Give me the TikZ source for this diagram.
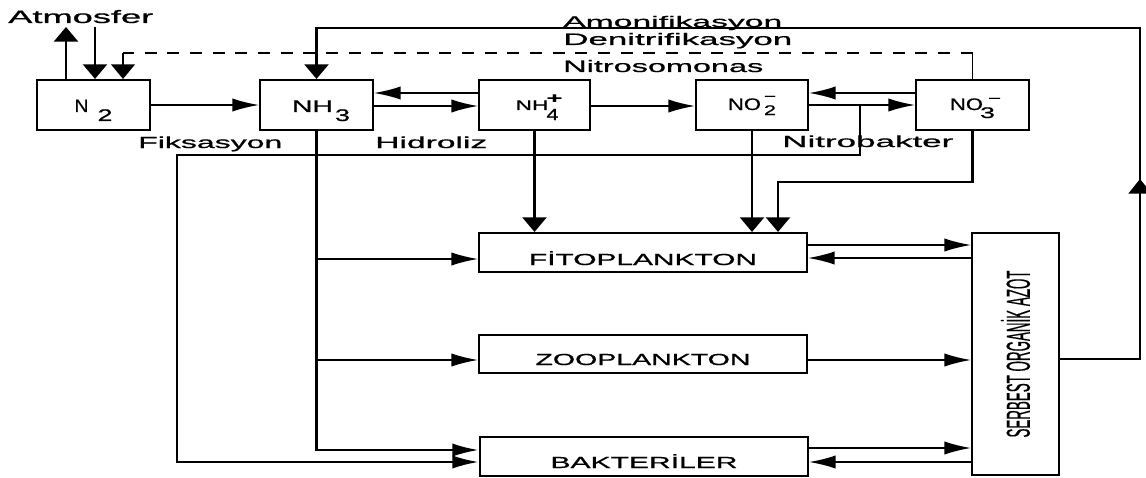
\documentclass[tikz,border=0pt]{standalone}
\usepackage{fontspec}
\setmainfont{Liberation Sans}
\newfontfamily\labfont{Liberation Sans}[FakeBold=0.6]
\usepackage{graphicx}
\usetikzlibrary{arrows.meta,decorations.markings}
\newlength\px \setlength\px{0.75pt}
\newcommand\wtext[3]{\resizebox{#2\px}{\height}{\fontsize{#1}{#1}\labfont #3}}
\tikzset{
  box/.style={draw, line width=1.6pt, rectangle, inner sep=0pt, text depth=0pt},
  lab/.style={inner sep=0pt, anchor=base west},
  conn/.style={line width=1.2pt},
  vconn/.style={line width=2pt},
  htip/.style={-{Latex[length=20pt,width=10pt]}},
  vtip/.style={-{Triangle[length=11pt,width=18pt]}},
  dashline/.style={line width=1.2pt, dash pattern=on 9pt off 8pt},
}
\begin{document}
\begin{tikzpicture}[x=0.75pt,y=-0.75pt]
\useasboundingbox (0,0) rectangle (1146,478);

% boxes
\node[box, minimum width=84.75pt, minimum height=37.5pt, text height=10.5pt] (N2) at (93.5,105)
  {\wtext{13.5}{14}{N}\hspace{9\px}\raisebox{-9\px}{\wtext{12.6}{15}{2}}\hspace{9\px}};
\node[box, minimum width=84.75pt, minimum height=37.5pt, text height=10.5pt] (NH3) at (316.5,105)
  {\hspace{9\px}\wtext{12.6}{41}{NH}\hspace{2\px}\raisebox{-9\px}{\wtext{12.6}{15}{3}}};
\node[box, minimum width=83.25pt, minimum height=37.5pt, text height=7.5pt] (NH4) at (534.5,105)
  {\hspace{5\px}\wtext{10.5}{33}{NH}\hspace{-2\px}\rlap{\raisebox{7\px}{\wtext{11}{16}{\bfseries +}}}\raisebox{-10\px}{\wtext{12}{12}{4}}};
\node[box, minimum width=84pt, minimum height=37.5pt, text height=7.5pt] (NO2) at (752,105)
  {\wtext{12.5}{33}{NO}\hspace{3\px}\rlap{\raisebox{9\px}{\wtext{10.5}{12}{−}}}\raisebox{-5\px}{\wtext{10.5}{12}{2}}\hspace{10\px}};
\node[box, minimum width=84.75pt, minimum height=37.5pt, text height=7.5pt] (NO3) at (972.5,105)
  {\wtext{12.5}{33}{NO}\hspace{-3\px}\rlap{\hspace{8\px}\raisebox{7\px}{\wtext{10.5}{13}{−}}}\raisebox{-8\px}{\wtext{11.5}{15}{3}}};
\node[box, minimum width=246pt, minimum height=29.25pt, text height=18.75pt] (FITO) at (643,252.5)
  {\wtext{12}{228}{FİTOPLANKTON}};
\node[box, minimum width=246pt, minimum height=28.5pt, text height=16.5pt] (ZOO) at (643,354)
  {\wtext{12}{215}{ZOOPLANKTON}};
\node[box, minimum width=246pt, minimum height=29.25pt, text height=17.25pt] (BAKT) at (644,456.5)
  {\wtext{12}{187}{BAKTERİLER}};
\node[box, minimum width=65.25pt, minimum height=181.5pt, text depth=0pt] (SERB) at (1015.5,354)
  {\rotatebox{90}{\wtext{25}{167}{SERBEST ORGANİK AZOT}}};

% labels
\node[lab] (tAtm) at (8,23) {\wtext{13.5}{145}{Atmosfer}};
\node[lab] (tAmo) at (563,27) {\wtext{11.5}{219}{Amonifikasyon}};
\node[lab] (tDen) at (563,45) {\wtext{12.5}{229}{Denitrifikasyon}};
\node[lab] (tNso) at (563,72) {\wtext{12.5}{200}{Nitrosomonas}};
\node[lab] (tFik) at (138,148) {\wtext{12}{144}{Fiksasyon}};
\node[lab] (tHid) at (375,148) {\wtext{12}{112}{Hidroliz}};
\node[lab] (tNba) at (782,147) {\wtext{12}{171}{Nitrobakter}};

% free ends / corners
\coordinate (atmA) at (66,27);
\coordinate (atmB) at (95,27);
\coordinate (dn) at (123,53);
\coordinate (amR) at (1140,359);
\coordinate (amT) at (1140,28);
\coordinate (u1) at (0,93);
\coordinate (l1) at (0,106);
\coordinate (nb) at (860,105);
\coordinate (nbC) at (860,155);
\coordinate (lfC) at (177,155);
\coordinate (lfB) at (177,462);
\coordinate (y450) at (0,450);
\coordinate (yF) at (0,259);
\coordinate (yZ) at (0,360);
\coordinate (n3C) at (972.5,182);
\coordinate (n3D) at (778,182);

% atmosphere
\draw[vconn, vtip] (atmA |- N2.north) -- (atmA);
\draw[vconn, vtip] (atmB) -- (atmB |- N2.north);

% denitrification (dashed)
\draw[conn] (NO3.north) -- (NO3.north |- dn);
\draw[dashline] (NO3.north |- dn) -- (dn);
\draw[conn, vtip] (dn) -- (dn |- N2.north);

% ammonification
\draw[vconn, vtip, postaction={decorate, decoration={markings,
   mark=at position 195pt with {\arrow{Triangle[length=11pt,width=17pt]}}}}]
  (SERB.east |- amR) -- (amR) -- (amT) -- (amT -| NH3.north) -- (NH3.north);

% top row
\draw[conn, htip] (N2.east) -- (NH3.west);
\draw[conn, htip] (NH4.west |- u1) -- (NH3.east |- u1);
\draw[conn, htip] (NH3.east |- l1) -- (NH4.west |- l1);
\draw[conn, htip] (NH4.east |- l1) -- (NO2.west |- l1);
\draw[conn, htip] (NO3.west |- u1) -- (NO2.east |- u1);
\draw[conn, htip] (NO2.east |- nb) -- (NO3.west |- nb);

% nitrate/nitrite to bacteria
\draw[vconn, htip] (nb) -- (nbC) -- (lfC) -- (lfB) -- (BAKT.west |- lfB);

% NH3 downwards
\draw[vconn, htip] (NH3.south) -- (NH3.south |- y450) -- (BAKT.west |- y450);
\draw[conn, htip] (NH3.south |- yF) -- (FITO.west |- yF);
\draw[conn, htip] (NH3.south |- yZ) -- (ZOO.west |- yZ);

% to phytoplankton
\draw[vconn, vtip] (NH4.south) -- (NH4.south |- FITO.north);
\draw[vconn, vtip] (NO2.south) -- (NO2.south |- FITO.north);
\draw[vconn, vtip] (NO3.south) -- (n3C) -- (n3D) -- (n3D |- FITO.north);

% exchanges with SERBEST ORGANIK AZOT
\coordinate (f1) at (0,245); \coordinate (f2) at (0,258);
\coordinate (b1) at (0,448); \coordinate (b2) at (0,462);
\draw[conn, htip] (FITO.east |- f1) -- (SERB.west |- f1);
\draw[conn, htip] (SERB.west |- f2) -- (FITO.east |- f2);
\draw[conn, htip] (ZOO.east |- yZ) -- (SERB.west |- yZ);
\draw[conn, htip] (BAKT.east |- b1) -- (SERB.west |- b1);
\draw[conn, htip] (SERB.west |- b2) -- (BAKT.east |- b2);
\end{tikzpicture}
\end{document}
